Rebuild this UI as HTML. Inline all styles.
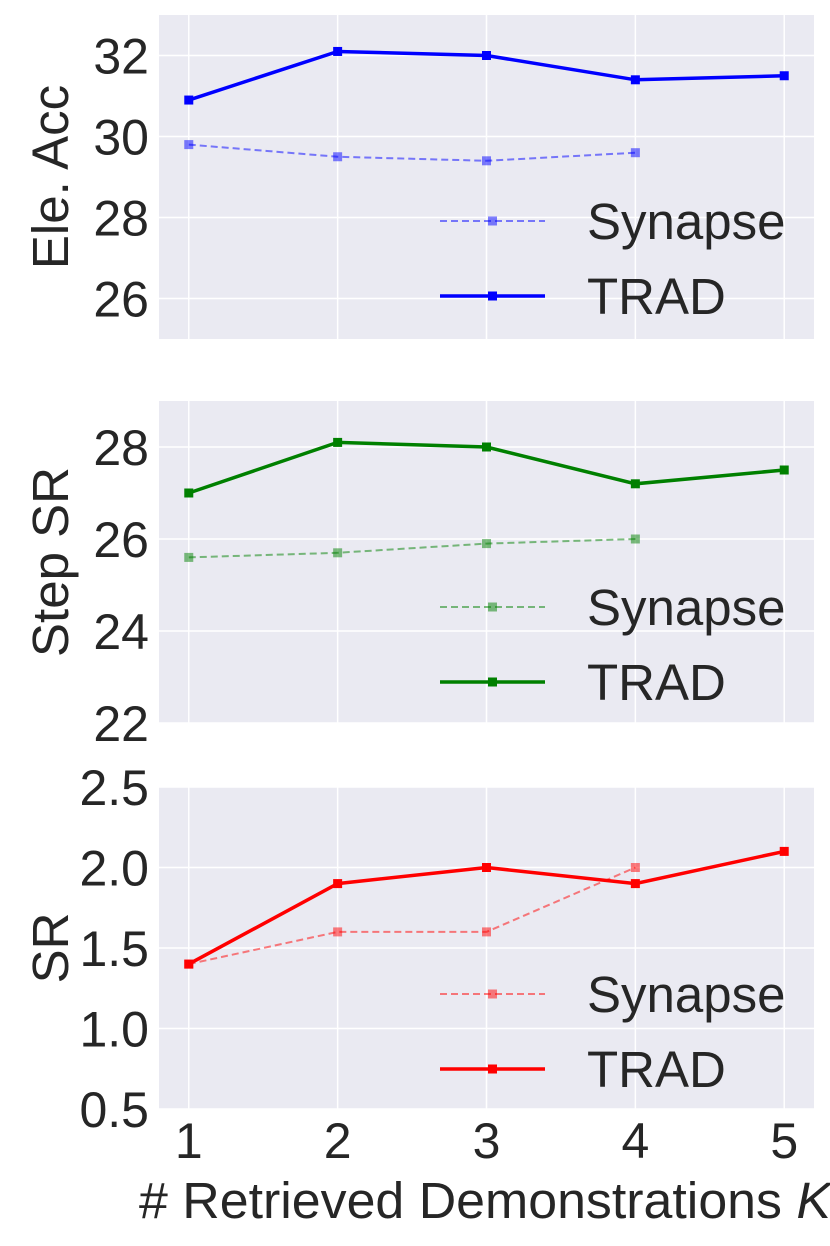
<!DOCTYPE html>
<html><head><meta charset="utf-8">
<style>
html,body{margin:0;padding:0;background:#fff;}
svg{display:block;font-family:"Liberation Sans",sans-serif;}
</style></head>
<body>
<svg id="chart" width="830" height="1246" xmlns="http://www.w3.org/2000/svg"></svg>
<script>
const categories = [1, 2, 3, 4, 5];
const eleTrad = [30.9, 32.1, 32.0, 31.4, 31.5];
const eleSyn = [29.8, 29.5, 29.4, 29.6];
const stepTrad = [27.0, 28.1, 28.0, 27.2, 27.5];
const stepSyn = [25.6, 25.7, 25.9, 26.0];
const srTrad = [1.4, 1.9, 2.0, 1.9, 2.1];
const srSyn = [1.4, 1.6, 1.6, 2.0];
const eleTicks = [26, 28, 30, 32];
const stepTicks = [22, 24, 26, 28];
const srTicks = [0.5, 1.0, 1.5, 2.0, 2.5];

const NS = "http://www.w3.org/2000/svg";
const svg = document.getElementById('chart');
function mk(tag, attrs, parent){ const e=document.createElementNS(NS,tag); for(const k in attrs) e.setAttribute(k,attrs[k]); (parent||svg).appendChild(e); return e; }
const X0=159, X1=814;
const xs = v => X0 + (v-0.8)/(4.4)*(X1-X0);

const panels = [
 {name:'ele-acc', top:15, bot:339, min:25, max:33, ticks:eleTicks, fmt:v=>String(v), label:'Ele. Acc', trad:eleTrad, syn:eleSyn, color:'#0000ff', ly:[221,296]},
 {name:'step-sr', top:401, bot:723, min:22, max:29, ticks:stepTicks, fmt:v=>String(v), label:'Step SR', trad:stepTrad, syn:stepSyn, color:'#008000', ly:[607,682]},
 {name:'sr', top:787, bot:1109, min:0.5, max:2.5, ticks:srTicks, fmt:v=>v.toFixed(1), label:'SR', trad:srTrad, syn:srSyn, color:'#ff0000', ly:[994,1069]}
];

panels.forEach((p,pi)=>{
  const g = mk('g',{});
  
  
  const ys = v => p.bot - (v-p.min)/(p.max-p.min)*(p.bot-p.top);
  mk('rect',{x:X0,y:p.top,width:X1-X0,height:p.bot-p.top,fill:'#eaeaf2'},g);
  categories.forEach(c=>{ mk('line',{x1:xs(c),x2:xs(c),y1:p.top,y2:p.bot,stroke:'#fff','stroke-width':1.5},g); });
  p.ticks.forEach(t=>{
    mk('line',{x1:X0,x2:X1,y1:ys(t),y2:ys(t),stroke:'#fff','stroke-width':1.5},g);
    const tx = mk('text',{x:149,y:ys(t)+18,'text-anchor':'end','font-size':50,fill:'#262626'},g);
    tx.textContent=p.fmt(t);
    
    
  });
  const yl = mk('text',{x:0,y:0,'font-size':51,fill:'#262626','text-anchor':'middle',transform:`translate(68,${(p.top+p.bot)/2}) rotate(-90)`},g);
  yl.textContent=p.label;
  
  
  const sp = p.syn.map((v,i)=>xs(categories[i])+','+ys(v)).join(' ');
  const sl = mk('polyline',{points:sp,fill:'none',stroke:p.color,'stroke-opacity':0.5,'stroke-width':2,'stroke-dasharray':'7,4'},g);
  
  
  p.syn.forEach((v,i)=>{ const m=mk('rect',{x:xs(categories[i])-4.5,y:ys(v)-4.5,width:9,height:9,fill:p.color,'fill-opacity':0.5},g);
    
     });
  const tp = p.trad.map((v,i)=>xs(categories[i])+','+ys(v)).join(' ');
  const tl = mk('polyline',{points:tp,fill:'none',stroke:p.color,'stroke-width':3.5},g);
  
  
  p.trad.forEach((v,i)=>{ const m=mk('rect',{x:xs(categories[i])-4.5,y:ys(v)-4.5,width:9,height:9,fill:p.color},g);
    
     });
  [['Synapse',true],['TRAD',false]].forEach(([nm,dash],k)=>{
    const ly=p.ly[k];
    const lg = mk('g',{},g);
    
    
    mk('line',{x1:440,x2:545,y1:ly,y2:ly,stroke:p.color,'stroke-width':dash?2:3.5,'stroke-opacity':dash?0.5:1,'stroke-dasharray':dash?'7,4':'none'},lg);
    mk('rect',{x:488,y:ly-4.5,width:9,height:9,fill:p.color,'fill-opacity':dash?0.5:1},lg);
    const t=mk('text',{x:587,y:ly+18,'font-size':51,fill:'#262626'},lg); t.textContent=nm;
  });
  if(pi===2){
    categories.forEach(c=>{ const t=mk('text',{x:xs(c),y:1158,'text-anchor':'middle','font-size':50,fill:'#262626'},g); t.textContent=c;
      
       });
    const xt=mk('text',{x:139,y:1218,'text-anchor':'start','font-size':51,fill:'#262626',textLength:692,lengthAdjust:'spacingAndGlyphs'},g);
    xt.innerHTML='# Retrieved Demonstrations <tspan font-style="italic">K</tspan>';
    
    
  }
});
</script>
</body></html>
